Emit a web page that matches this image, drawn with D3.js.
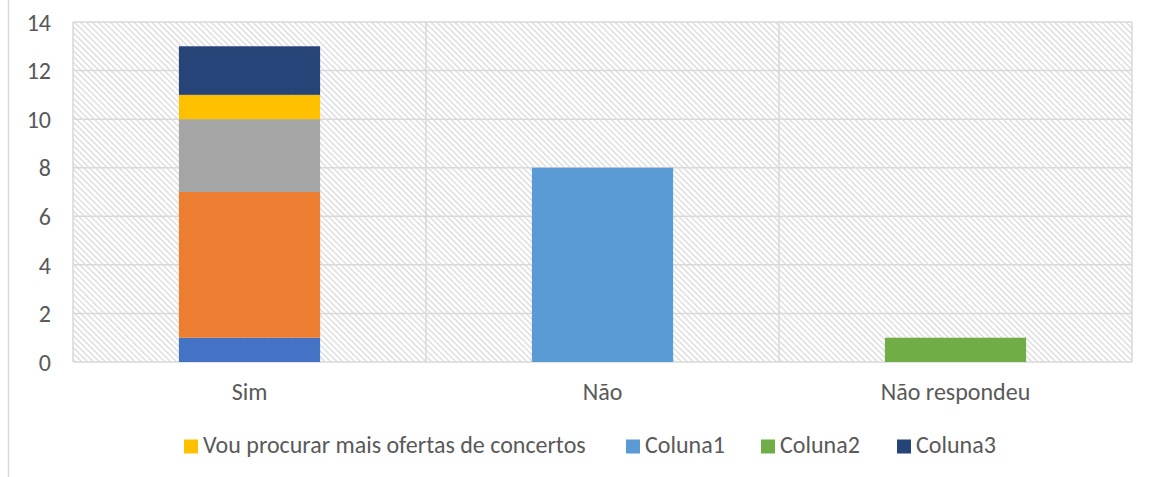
<!DOCTYPE html>
<html><head><meta charset="utf-8">
<script src="https://cdn.jsdelivr.net/npm/d3@7"></script>
<style>body{margin:0;background:#fff;}svg{display:block;}svg text{font-family:Carlito,Calibri,"Liberation Sans",sans-serif;}</style>
</head><body>
<svg id="chart" width="1151" height="477"></svg>
<script>
const categories = ["Sim", "Não", "Não respondeu"];
const seriesNames = ["Série A", "Série B", "Série C", "Vou procurar mais ofertas de concertos", "Coluna1", "Coluna2", "Coluna3"];
const seriesColors = ["#4472C4", "#ED7D31", "#A5A5A5", "#FFC000", "#5B9BD5", "#70AD47", "#264478"];
const seriesA = [1, 0, 0];
const seriesB = [6, 0, 0];
const seriesC = [3, 0, 0];
const vouProcurar = [1, 0, 0];
const coluna1 = [0, 8, 0];
const coluna2 = [0, 0, 1];
const coluna3 = [2, 0, 0];
const legendSeries = ["Vou procurar mais ofertas de concertos", "Coluna1", "Coluna2", "Coluna3"];
const yTicks = [0, 2, 4, 6, 8, 10, 12, 14];

const seriesValues = [seriesA, seriesB, seriesC, vouProcurar, coluna1, coluna2, coluna3];
const table = categories.map((c, i) => {
  const row = {cat: c};
  seriesNames.forEach((s, j) => row[s] = seriesValues[j][i]);
  return row;
});

const svg = d3.select("#chart");
const W = 1151, H = 477;
const m = {left: 73, right: 19, top: 22, bottom: 115};
const FONT = "Carlito, Calibri, 'Liberation Sans', sans-serif";

svg.append("line").attr("x1", 8.5).attr("x2", 8.5).attr("y1", 0).attr("y2", 477)
  .attr("stroke", "#d9d9d9").attr("stroke-width", 1.5);

const defs = svg.append("defs");
const pat = defs.append("pattern").attr("id", "hatch").attr("patternUnits", "userSpaceOnUse")
  .attr("width", 4.2).attr("height", 4.2).attr("patternTransform", "rotate(45)");
pat.append("rect").attr("width", 4.2).attr("height", 4.2).attr("fill", "#fff");
pat.append("rect").attr("x", 0).attr("y", 0).attr("width", 4.2).attr("height", 1.5).attr("fill", "#dedede");

const x = d3.scaleBand().domain(categories).range([m.left, W - m.right]).paddingInner(0).paddingOuter(0);
const y = d3.scaleLinear().domain([0, 14]).range([H - m.bottom, m.top]);

svg.append("rect").attr("x", m.left).attr("y", m.top).attr("width", W - m.right - m.left)
  .attr("height", H - m.bottom - m.top).attr("fill", "url(#hatch)");

svg.append("g").selectAll("line").data(yTicks).join("line")
  .attr("x1", m.left).attr("x2", W - m.right)
  .attr("y1", d => y(d)).attr("y2", d => y(d))
  .attr("stroke", "#d9d9d9").attr("stroke-width", 1.5);
const bounds = categories.map(c => x(c)).concat([x(categories[categories.length - 1]) + x.bandwidth()]);
svg.append("g").selectAll("line").data(bounds).join("line")
  .attr("x1", d => d).attr("x2", d => d)
  .attr("y1", y(0)).attr("y2", y(14))
  .attr("stroke", "#d9d9d9").attr("stroke-width", 1.5);

const stack = d3.stack().keys(seriesNames)(table);
const barW = x.bandwidth() * 0.4;
svg.append("g").selectAll("g").data(stack).join("g")
  .attr("fill", (d, i) => seriesColors[i])
  .selectAll("rect").data(d => d).join("rect")
  .attr("x", d => x(d.data.cat) + (x.bandwidth() - barW) / 2)
  .attr("width", barW)
  .attr("y", d => y(d[1]))
  .attr("height", d => y(d[0]) - y(d[1]));

const yAxis = d3.axisLeft(y).tickValues(yTicks).tickSize(0).tickPadding(0);
const gy = svg.append("g").attr("transform", `translate(51,0)`).call(yAxis)
  .attr("font-family", FONT).attr("font-size", 24);
gy.select(".domain").remove();
gy.selectAll("text").attr("fill", "#595959").attr("dy", "0.34em");

const xAxis = d3.axisBottom(x).tickSize(0).tickPadding(0);
const gx = svg.append("g").attr("transform", `translate(0,${y(0) + 21})`).call(xAxis)
  .attr("font-family", FONT).attr("font-size", 24);
gx.select(".domain").remove();
gx.selectAll("text").attr("fill", "#595959");

const legendX = [184, 626, 761, 897];
const lg = svg.append("g").attr("font-family", FONT).attr("font-size", 24);
legendSeries.forEach((s, i) => {
  const idx = seriesNames.indexOf(s);
  lg.append("rect").attr("x", legendX[i]).attr("y", 439.5).attr("width", 14).attr("height", 14).attr("fill", seriesColors[idx]);
  lg.append("text").attr("x", legendX[i] + 19).attr("y", 453).attr("fill", "#595959").text(s);
});
</script>
</body></html>
